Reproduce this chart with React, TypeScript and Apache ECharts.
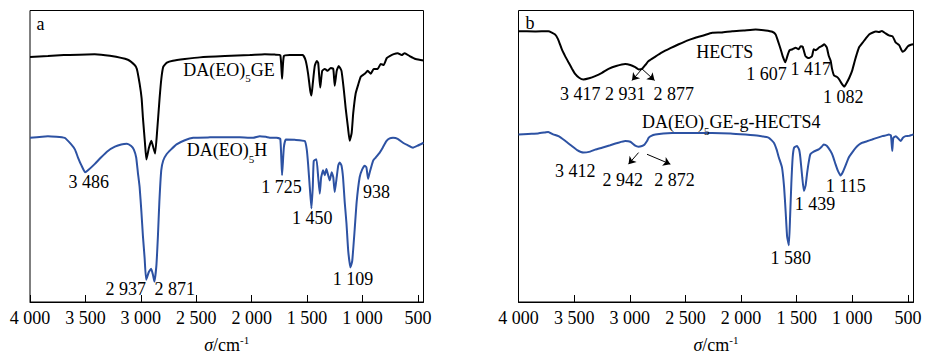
import React, { useEffect, useRef } from 'react';
import * as echarts from 'echarts';

// ---------- Panel a : DA(EO)5GE (black) ----------
const A_GE_WN = [4000, 3838, 3694, 3417, 3279, 3117, 3056, 3036, 3011, 2993, 2981, 2963, 2950, 2927, 2905, 2887, 2871, 2851, 2831, 2815, 2798, 2765, 2711, 2603, 2468, 2242, 2017, 1882, 1792, 1742, 1726, 1710, 1656, 1539, 1512, 1491, 1472, 1461, 1449, 1431, 1413, 1400, 1382, 1364, 1341, 1314, 1287, 1264, 1251, 1233, 1215, 1190, 1170, 1152, 1131, 1116, 1098, 1084, 1062, 1039, 1016, 980, 953, 926, 899, 863, 836, 809, 782, 755, 719, 683, 647, 620, 575, 521, 450];
const A_GE_T = [248.7, 249.7, 250.7, 251.7, 250, 246, 240.7, 236.7, 221.7, 206.7, 186.7, 161.7, 144.7, 156.7, 163.7, 156.7, 150.7, 176.7, 206.7, 226.7, 238.7, 243, 245, 246.7, 248.4, 249.7, 250.7, 251.7, 251.2, 250.7, 226.7, 249.7, 250.7, 250.7, 244.7, 231.7, 214.7, 209.7, 221.7, 239.7, 244.7, 242.7, 217.7, 234.7, 236.7, 234.7, 237.7, 236.7, 219.7, 234.7, 239.7, 234.7, 216.7, 196.7, 176.7, 163.7, 171.7, 191.7, 211.7, 220.7, 228.7, 231.7, 234.7, 231.7, 236.7, 236.7, 241.7, 240.7, 247.7, 249.7, 251.7, 252.7, 250.7, 252.7, 249.7, 246.7, 245.2];

// ---------- Panel a : DA(EO)5H (blue) ----------
const A_H_WN = [4000, 3838, 3687, 3628, 3594, 3567, 3536, 3502, 3477, 3417, 3360, 3297, 3234, 3177, 3126, 3087, 3063, 3042, 3027, 3011, 2995, 2981, 2966, 2952, 2927, 2907, 2891, 2878, 2860, 2846, 2833, 2816, 2798, 2768, 2729, 2678, 2603, 2528, 2377, 2227, 2107, 1987, 1927, 1873, 1837, 1776, 1742, 1726, 1710, 1692, 1611, 1521, 1503, 1491, 1476, 1461, 1449, 1440, 1416, 1400, 1386, 1373, 1356, 1341, 1326, 1310, 1296, 1278, 1264, 1251, 1233, 1219, 1206, 1190, 1176, 1161, 1145, 1129, 1109, 1093, 1071, 1053, 1026, 1003, 980, 965, 950, 935, 905, 881, 845, 818, 785, 755, 725, 683, 635, 593, 545, 503, 450];
const A_H_T = [166.7, 168.4, 166.7, 160, 154.7, 146.7, 138.7, 131.7, 133.7, 140, 146.7, 153.4, 157.7, 160, 160.7, 158.4, 154.7, 146.7, 131.7, 116.7, 91.7, 66.7, 44.7, 22.7, 30.7, 33.7, 27.7, 20.7, 36.7, 66.7, 101.7, 133.7, 143.7, 150, 154.7, 160, 164.2, 166.7, 167.2, 167.4, 167.2, 166.7, 168.4, 167.7, 166.9, 166.7, 165.7, 128.7, 156.7, 165, 164.7, 163.4, 154.7, 140, 116.7, 95, 116.7, 143.4, 145, 126.7, 110, 126.7, 133.7, 128.7, 135, 128.7, 123.4, 131.7, 126.7, 111.7, 126.7, 138.7, 141.7, 138.7, 126.7, 101.7, 80, 51.7, 35, 41.7, 73.4, 101.7, 126.7, 134.7, 138.4, 136.7, 125, 131.7, 143.4, 146.7, 151.7, 156.7, 163.4, 166.2, 166.7, 165.7, 161.7, 159.2, 156.7, 158.7, 161.7];

// ---------- Panel b : HECTS (black) ----------
const B_HE_WN = [4000, 3851, 3732, 3671, 3644, 3611, 3581, 3551, 3518, 3491, 3455, 3416, 3365, 3311, 3250, 3191, 3122, 3041, 2995, 2951, 2919, 2890, 2860, 2831, 2770, 2710, 2635, 2560, 2491, 2410, 2338, 2259, 2176, 2079, 1978, 1869, 1779, 1719, 1689, 1667, 1644, 1626, 1602, 1581, 1563, 1536, 1509, 1482, 1464, 1446, 1422, 1405, 1389, 1362, 1347, 1329, 1299, 1272, 1252, 1230, 1212, 1194, 1182, 1164, 1140, 1122, 1095, 1072, 1050, 1027, 1002, 978, 960, 939, 905, 878, 849, 815, 788, 759, 734, 701, 671, 638, 611, 578, 549, 527, 500, 473, 450];
const B_HE_T = [275, 274.7, 275, 271.7, 266.7, 256.7, 249.7, 243.4, 236.7, 231.7, 227.7, 226, 227.2, 229.4, 232.7, 236.7, 239.7, 241.7, 240.7, 238.4, 236.2, 236.7, 240.7, 244.7, 249.2, 253.4, 257.7, 261.7, 265.2, 268.4, 270.7, 273.4, 273.7, 275, 275.7, 276.7, 275.7, 274.4, 271.7, 264.7, 256.7, 249.7, 243.4, 250.7, 255.7, 256.7, 258.2, 256.7, 259.7, 259.2, 250, 248.2, 247.7, 249.7, 256.7, 255.7, 258.4, 260, 261.7, 258.7, 250, 244.7, 236.7, 230, 228.7, 226.7, 221.7, 218.7, 222.7, 227.7, 234.7, 244.7, 251.7, 258.7, 263.7, 267.7, 271.7, 273.7, 274.7, 274.2, 275.2, 272.7, 270.7, 269.7, 263.7, 260.7, 254.2, 255.7, 259.7, 261.2, 261.7];

// ---------- Panel b : DA(EO)5GE-g-HECTS4 (blue) ----------
const B_G_WN = [4000, 3914, 3824, 3761, 3732, 3689, 3641, 3581, 3521, 3473, 3416, 3356, 3311, 3250, 3176, 3104, 3041, 2995, 2951, 2921, 2890, 2869, 2845, 2831, 2806, 2770, 2698, 2620, 2455, 2260, 2095, 1960, 1842, 1750, 1705, 1680, 1660, 1632, 1613, 1599, 1586, 1570, 1559, 1548, 1536, 1523, 1497, 1478, 1467, 1450, 1435, 1419, 1407, 1392, 1377, 1347, 1302, 1275, 1257, 1230, 1196, 1176, 1151, 1131, 1106, 1086, 1061, 1032, 1002, 968, 941, 912, 869, 822, 779, 731, 698, 671, 653, 641, 631, 608, 566, 545, 521, 491, 464, 450];
const B_G_T = [170, 170.7, 171.2, 172.2, 172.7, 170.2, 168.4, 163.7, 158.4, 154.2, 151.7, 152.7, 154.7, 156.7, 159.2, 161.7, 163.4, 162.7, 158.7, 157.7, 158.4, 159.7, 163.4, 166.7, 168.7, 170, 171.2, 171.7, 171.7, 171.7, 171.2, 170, 168.7, 166.7, 161.7, 154.7, 146.7, 136.7, 116.7, 91.7, 66.7, 57.7, 86.7, 120, 146.7, 156.7, 158.4, 154.7, 146.7, 126.7, 112.7, 118.7, 130, 141.7, 150, 152.7, 155, 157.7, 160, 158.7, 153.4, 148.7, 140, 133.7, 128.4, 131.7, 138.4, 146.7, 151.7, 156.7, 159.7, 161.7, 163.2, 165, 166.7, 168.4, 169.2, 170, 169.2, 153.4, 166.7, 168.4, 163.4, 166.7, 168.4, 168.7, 169.7, 170];

// ---------- Annotations: [wavenumber, level, text] ----------
const NOTES_A: [number, number, string][] = [
  [3905, 282.7, 'a'],
  [2204, 235.7, 'DA(EO){s|5}GE'],
  [2222, 154.2, 'DA(EO){s|5}H'],
  [3470, 121.7, '3 486'],
  [3136, 13.4, '2 937'],
  [2693, 13.4, '2 871'],
  [1731, 116.7, '1 725'],
  [1454, 85, '1 450'],
  [875, 111.7, '938'],
  [1086, 23.4, '1 109'],
];
const NOTES_B: [number, number, string][] = [
  [3896, 283.4, 'b'],
  [2147, 253.4, 'HECTS'],
  [1771, 231.7, '1 607'],
  [1374, 236.7, '1 417'],
  [3446, 211.7, '3 417'],
  [3041, 211.7, '2 931'],
  [2605, 211.7, '2 877'],
  [1081, 208.4, '1 082'],
  [2087, 182.7, 'DA(EO){s|5}GE-g-HECTS4'],
  [3491, 133.4, '3 412'],
  [3063, 124, '2 942'],
  [2597, 124, '2 872'],
  [1554, 45, '1 580'],
  [1336, 100, '1 439'],
  [1059, 117.4, '1 115'],
];
// arrows: [fromWn, fromLevel, toWn, toLevel]
const ARROWS_B: [number, number, number, number][] = [
  [2890, 236.7, 2980, 225],
  [2890, 236.7, 2777, 225],
  [2921, 151.7, 3011, 140],
  [2845, 150, 2635, 140],
];

const FONT = '"Liberation Serif", "Times New Roman", serif';
const BLUE = '#2d52a3';

const zip = (xs: number[], ys: number[]) => xs.map((x, i) => [x, ys[i]]);
const fmt = (v: number) => {
  if (v % 500 !== 0) return '';
  if (v >= 1000) return `${Math.floor(v / 1000)} ${String(v % 1000).padStart(3, '0')}`;
  return String(v);
};

const rich = {
  s: { fontSize: 11, lineHeight: 11, verticalAlign: 'bottom', fontFamily: FONT, color: '#000', textBorderWidth: 0 },
};

const makeX = (gridIndex: number) => ({
  gridIndex,
  type: 'value',
  inverse: true,
  min: 450,
  max: 4000,
  minInterval: 500,
  maxInterval: 500,
  axisLine: { show: true, lineStyle: { color: '#000', width: 1 } },
  axisTick: { show: true, inside: true, length: 7, lineStyle: { color: '#000', width: 1 } },
  axisLabel: {
    formatter: fmt,
    color: '#000',
    fontFamily: FONT,
    fontSize: 18,
    margin: 7,
    showMinLabel: true,
    showMaxLabel: true,
  },
  splitLine: { show: false },
  name: '{i|σ}/cm{sup|-1}',
  nameLocation: 'middle',
  nameGap: 32,
  nameTextStyle: {
    color: '#000',
    fontFamily: FONT,
    fontSize: 18,
    lineHeight: 22,
    rich: {
      i: { fontStyle: 'italic', fontFamily: FONT, fontSize: 18, color: '#000', lineHeight: 22 },
      sup: { fontSize: 11, lineHeight: 11, verticalAlign: 'top', fontFamily: FONT, color: '#000' },
    },
  },
});

const makeY = (gridIndex: number) => ({
  gridIndex,
  type: 'value',
  min: 0,
  max: 296,
  show: false,
});

const lineSeries = (idx: number, data: number[][], color: string, extra: any = {}) => ({
  type: 'line',
  xAxisIndex: idx,
  yAxisIndex: idx,
  data,
  symbol: 'none',
  smooth: 0.15,
  lineStyle: { color, width: 2 },
  itemStyle: { color },
  silent: true,
  ...extra,
});

const noteSeries = (idx: number, notes: [number, number, string][]) => ({
  type: 'scatter',
  xAxisIndex: idx,
  yAxisIndex: idx,
  symbolSize: 1,
  itemStyle: { color: 'rgba(0,0,0,0)' },
  silent: true,
  data: notes.map(([w, t, txt]) => ({ name: txt, value: [w, t] })),
  label: {
    show: true,
    position: 'inside',
    formatter: (p: any) => p.name,
    color: '#000',
    opacity: 1,
    textBorderWidth: 0,
    textBorderColor: 'transparent',
    fontFamily: FONT,
    fontSize: 18,
    lineHeight: 28,
    rich,
  },
  z: 5,
});

export default function App() {
  const ref = useRef<HTMLDivElement>(null);
  useEffect(() => {
    document.body.style.margin = '0';
    if (!ref.current) return;
    const chart = echarts.init(ref.current, undefined, { renderer: 'svg' });
    chart.setOption({
      animation: false,
      backgroundColor: '#fff',
      grid: [
        { left: 30, top: 10.5, width: 393.5, height: 296, show: true, borderColor: '#000', borderWidth: 1, backgroundColor: 'transparent' },
        { left: 518.5, top: 10.5, width: 395, height: 296, show: true, borderColor: '#000', borderWidth: 1, backgroundColor: 'transparent' },
      ],
      xAxis: [makeX(0), makeX(1)],
      yAxis: [makeY(0), makeY(1)],
      series: [
        lineSeries(0, zip(A_GE_WN, A_GE_T), '#000'),
        lineSeries(0, zip(A_H_WN, A_H_T), BLUE),
        lineSeries(1, zip(B_HE_WN, B_HE_T), '#000', {
          markLine: {
            silent: true,
            symbol: ['none', 'arrow'],
            symbolSize: 7,
            lineStyle: { color: '#000', width: 1, type: 'solid' },
            label: { show: false },
            data: ARROWS_B.map(([w1, t1, w2, t2]) => [{ coord: [w1, t1] }, { coord: [w2, t2] }]),
          },
        }),
        lineSeries(1, zip(B_G_WN, B_G_T), BLUE),
        noteSeries(0, NOTES_A),
        noteSeries(1, NOTES_B),
      ],
    });
    return () => chart.dispose();
  }, []);
  return <div ref={ref} style={{ width: 931, height: 361 }} />;
}
